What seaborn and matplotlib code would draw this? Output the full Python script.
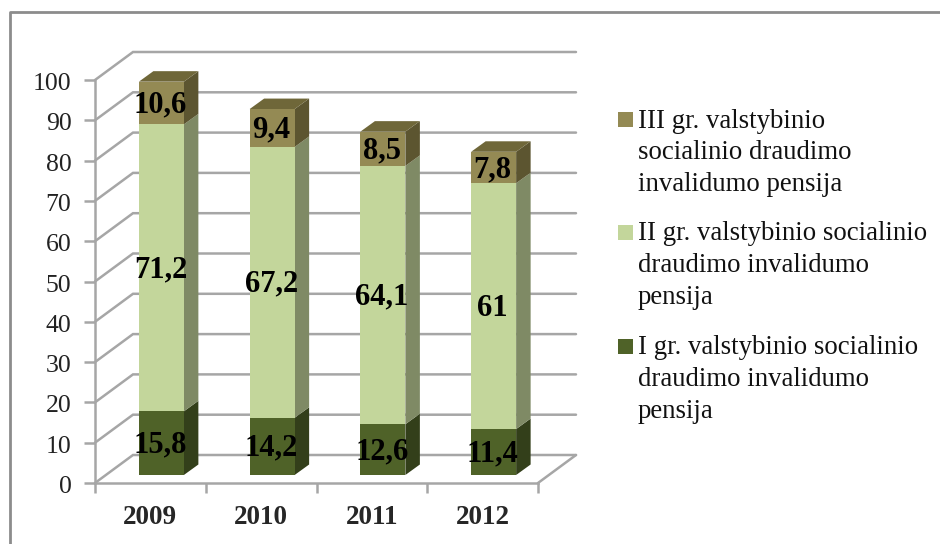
import matplotlib
matplotlib.use('Agg')
import matplotlib.pyplot as plt
from matplotlib.patches import Polygon, Rectangle
from matplotlib.transforms import ScaledTranslation
import numpy as np
import seaborn as sns

# dati
years = ['2009', '2010', '2011', '2012']
gr1 = [15.8, 14.2, 12.6, 11.4]
gr2 = [71.2, 67.2, 64.1, 61]
gr3 = [10.6, 9.4, 8.5, 7.8]
labels = ['III gr. valstybinio\nsocialinio draudimo\ninvalidumo pensija',
          'II gr. valstybinio socialinio\ndraudimo invalidumo\npensija',
          'I gr. valstybinio socialinio\ndraudimo invalidumo\npensija']
yticks = list(range(0, 101, 10))

front_cols = ['#4F6228', '#C3D69B', '#948A54']
side_cols = ['#333F1A', '#7F8A65', '#5C5530']
top_col = '#6F6739'
line_col = '#A6A6A6'
W, H = 940, 544

sns.set_style('white')
plt.rcParams['font.family'] = ['Liberation Serif', 'DejaVu Serif']

fig = plt.figure(figsize=(W / 100, H / 100), dpi=100)
# asse in pixel: anno 0 a y=483, 100 a y=80, x da 95 a 538
ax = fig.add_axes([95 / W, 1 - 483 / H, 443 / W, 403 / H])

px_x = 4 / 443      # unita categoria per pixel
px_y = 100 / 403    # unita valore per pixel
wall_dx, wall_dy = 38 * px_x, 28 * px_y
front_dx, front_dy = 11 * px_x, 8 * px_y
side_dx, side_dy = 14.5 * px_x, 10.5 * px_y
bar_w = 45 * px_x

# parete di fondo e griglia
for t in yticks:
    ax.plot([-0.5, -0.5 + wall_dx, 3.5 + wall_dx], [t, t + wall_dy, t + wall_dy],
            color=line_col, lw=1.8, clip_on=False, zorder=1, solid_joinstyle='miter')
ax.plot([3.5, 3.5 + wall_dx], [0, wall_dy], color=line_col, lw=1.8, clip_on=False, zorder=1)

# barre frontali con seaborn
bottom = np.zeros(4)
for vals, col, side in zip([gr1, gr2, gr3], front_cols, side_cols):
    vals = np.array(vals)
    n_before = len(ax.patches)
    sns.barplot(x=years, y=vals, bottom=bottom + front_dy, color=col, saturation=1,
                width=bar_w, linewidth=0, ax=ax, zorder=4)
    for p in ax.patches[n_before:]:
        p.set_x(p.get_x() + front_dx)
        p.set_clip_on(False)
    for i in range(4):
        x1 = i - bar_w / 2 + front_dx + bar_w
        y0 = bottom[i] + front_dy
        y1 = y0 + vals[i]
        ax.add_patch(Polygon([(x1, y0), (x1 + side_dx, y0 + side_dy),
                              (x1 + side_dx, y1 + side_dy), (x1, y1)],
                             facecolor=side, edgecolor='none', clip_on=False, zorder=3))
    bottom = bottom + vals

# faccia superiore
for i in range(4):
    x0 = i - bar_w / 2 + front_dx
    y1 = bottom[i] + front_dy
    ax.add_patch(Polygon([(x0, y1), (x0 + bar_w, y1),
                          (x0 + bar_w + side_dx, y1 + side_dy), (x0 + side_dx, y1 + side_dy)],
                         facecolor=top_col, edgecolor='none', clip_on=False, zorder=3))

# etichette dei valori
bottom = np.zeros(4)
for vals in [gr1, gr2, gr3]:
    for i, v in enumerate(vals):
        ax.text(i + front_dx - px_x, bottom[i] + v / 2 + front_dy - 2 * px_y,
                str(v).replace('.', ','), ha='center', va='center', fontsize=22,
                fontweight='bold', color='black', zorder=6)
    bottom = bottom + np.array(vals)

ax.set_xlim(-0.5, 3.5)
ax.set_ylim(0, 100)
ax.patch.set_visible(False)
ax.set_yticks(yticks)
ax.set_xticks(range(4))
ax.set_xticklabels(years, fontsize=19.5, fontweight='bold')
ax.set_xticks(np.arange(-0.5, 3.6, 1), minor=True)
ax.tick_params(axis='x', which='major', bottom=False, pad=12)
ax.tick_params(axis='x', which='minor', bottom=True, length=7, width=1.8, color=line_col,
               direction='out')
ax.tick_params(axis='y', length=8, width=1.8, color=line_col, direction='out', left=True,
               labelsize=18.5, pad=9, labelcolor='#222222')
# le etichette y stanno un poco piu in basso del tick
shift = ScaledTranslation(0, -1.5 / 100, fig.dpi_scale_trans)
for lab in ax.get_yticklabels():
    lab.set_transform(lab.get_transform() + shift)
sns.despine(ax=ax, right=True, top=True)
for s in ['left', 'bottom']:
    ax.spines[s].set_color(line_col)
    ax.spines[s].set_linewidth(1.8)
    ax.spines[s].set_zorder(2)

# legenda a mano, come nell'originale
leg_y = [112, 225, 339]
for lab, col, y in zip(labels, front_cols[::-1], leg_y):
    fig.add_artist(Rectangle((618 / W, 1 - (y + 15) / H), 15 / W, 15 / H, facecolor=col,
                             edgecolor='none', transform=fig.transFigure))
    fig.text(638 / W, 1 - (y - 3.5) / H, lab, fontsize=19.3, va='top', ha='left',
             linespacing=1.35, color='#111111')

# cornice
fig.add_artist(plt.Line2D([9.5 / W, 9.5 / W, 1], [0, 1 - 12 / H, 1 - 12 / H],
                          color='#8C8C8C', lw=2, transform=fig.transFigure))

fig.savefig('out.png', dpi=100)
